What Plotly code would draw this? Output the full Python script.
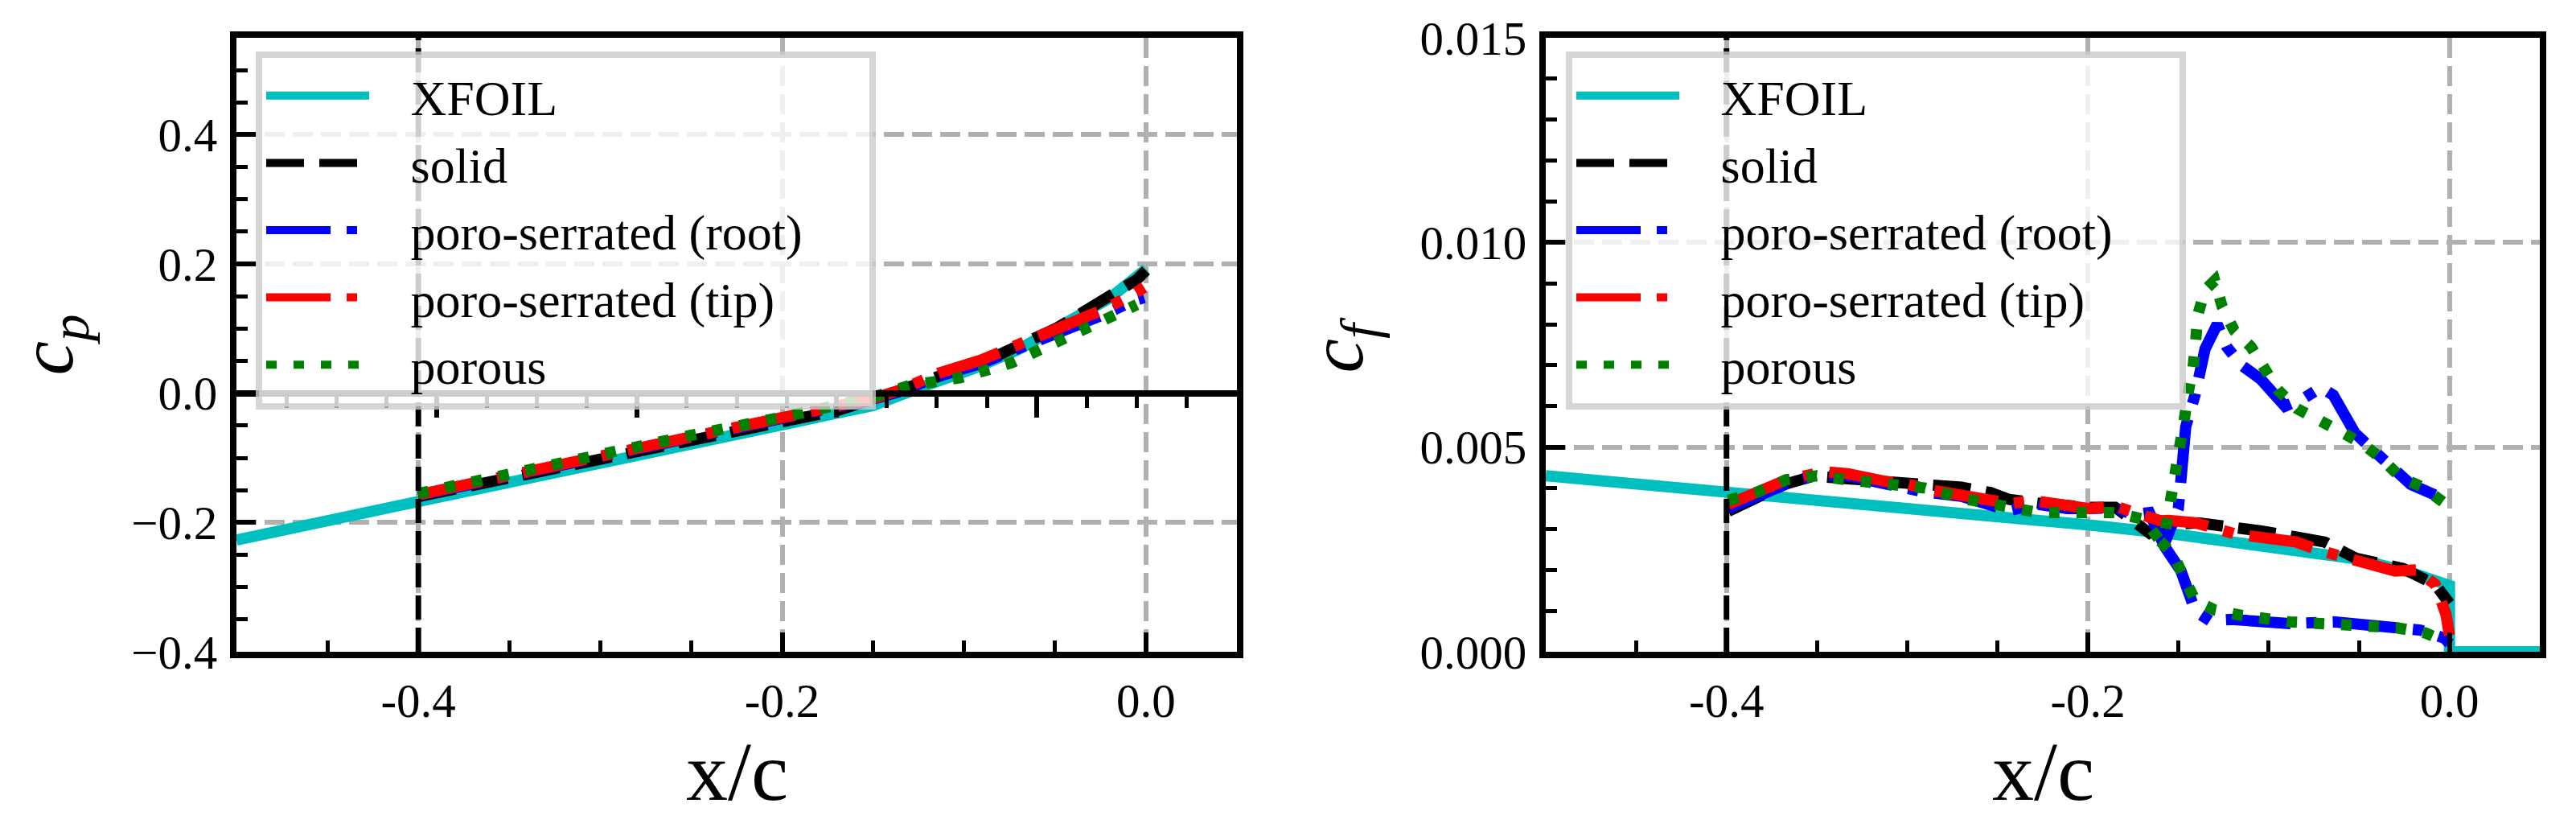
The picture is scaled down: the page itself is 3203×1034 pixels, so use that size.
import plotly.graph_objects as go

# ---------------- data: pressure coefficient (left panel) ----------------
xfoil_cp_x = [-0.5, -0.45, -0.4, -0.35, -0.3, -0.25, -0.2, -0.15, -0.123, -0.094, -0.07, -0.042, -0.02, 0.0]
xfoil_cp = [-0.227, -0.197, -0.167, -0.136, -0.106, -0.077, -0.049, -0.019, 0.010, 0.039, 0.068, 0.110, 0.147, 0.192]

solid_cp_x = [-0.4, -0.35, -0.3, -0.25, -0.2, -0.17, -0.15, -0.14, -0.115, -0.082, -0.049, -0.027, -0.005, 0.0]
solid_cp = [-0.160, -0.130, -0.100, -0.072, -0.044, -0.027, -0.012, 0.000, 0.025, 0.058, 0.101, 0.137, 0.176, 0.190]

serr_cp_x = [-0.4, -0.35, -0.3, -0.25, -0.2, -0.17, -0.15, -0.135, -0.114, -0.091, -0.049, -0.023, -0.007, -0.001]
root_cp = [-0.158, -0.128, -0.098, -0.069, -0.041, -0.023, -0.009, 0.003, 0.026, 0.046, 0.092, 0.122, 0.143, 0.148]
tip_cp = [-0.157, -0.127, -0.097, -0.068, -0.040, -0.022, -0.008, 0.005, 0.031, 0.051, 0.098, 0.130, 0.153, 0.164]

porous_cp_x = [-0.4, -0.35, -0.3, -0.25, -0.2, -0.17, -0.15, -0.13, -0.102, -0.074, -0.061, -0.048, -0.035, -0.023, -0.0095, -0.005]
porous_cp = [-0.155, -0.124, -0.094, -0.065, -0.037, -0.020, -0.006, 0.012, 0.024, 0.047, 0.064, 0.078, 0.097, 0.114, 0.130, 0.137]

# ---------------- data: skin friction coefficient (right panel) ----------------
xfoil_cf_x = [-0.5, -0.4, -0.3, -0.2, -0.15, -0.1, -0.067, -0.05, -0.02, -0.01, 0.0, 0.0, 0.05]
xfoil_cf = [0.0043, 0.0039, 0.00355, 0.0031, 0.00286, 0.00257, 0.00242, 0.00226, 0.00192, 0.0018, 0.00162, 0.0, 0.0]

solid_cf_x = [-0.399, -0.383, -0.368, -0.352, -0.333, -0.319, -0.300, -0.2865, -0.270, -0.254, -0.2436, -0.2276,
              -0.2115, -0.2, -0.185, -0.177, -0.166, -0.158, -0.139, -0.104, -0.069, -0.052, -0.0255, -0.0078, 0.0]
solid_cf = [0.00343, 0.00376, 0.00409, 0.00429, 0.00422, 0.00415, 0.00412, 0.00409, 0.00402, 0.00389, 0.00372, 0.00363,
            0.00356, 0.00353, 0.00353, 0.00323, 0.0029, 0.0031, 0.00315, 0.00295, 0.00268, 0.00229, 0.00203, 0.00164, 0.00118]

tip_cf_x = [-0.399, -0.383, -0.367, -0.346, -0.333, -0.312, -0.300, -0.288, -0.270, -0.2545, -0.243, -0.230, -0.2115,
            -0.2, -0.185, -0.170, -0.160, -0.1554, -0.1406, -0.1186, -0.0846, -0.0728, -0.0521, -0.030, -0.0183,
            -0.0078, -0.0019, 0.0]
tip_cf = [0.0036, 0.0039, 0.0042, 0.0044, 0.00435, 0.00416, 0.0041, 0.00396, 0.00385, 0.00369, 0.00362, 0.00369, 0.00353,
          0.0035, 0.00356, 0.0033, 0.0032, 0.00321, 0.00315, 0.00288, 0.00268, 0.00249, 0.00223, 0.00197, 0.002,
          0.00164, 0.00091, 0.0004]

root_cf_main_x = [-0.399, -0.383, -0.367, -0.352, -0.333, -0.312, -0.290, -0.270, -0.254, -0.2436, -0.2276, -0.2115,
                  -0.2, -0.185, -0.175, -0.166, -0.158]
root_cf_main = [0.0035, 0.0038, 0.0041, 0.0043, 0.0043, 0.0041, 0.0039, 0.0038, 0.0036, 0.00345, 0.0036, 0.0035,
                0.0035, 0.00352, 0.00335, 0.0034, 0.0026]
root_cf_upper_x = [-0.150, -0.1459, -0.1406, -0.1352, -0.1285, -0.1232, -0.1151, -0.1044, -0.0910, -0.0803, -0.0710,
                   -0.0643, -0.0522, -0.0428, -0.0321, -0.0214, -0.0080]
root_cf_upper = [0.0035, 0.0055, 0.0063, 0.0074, 0.0080, 0.00745, 0.0070, 0.00666, 0.0060, 0.0062, 0.00646,
                 0.00627, 0.00534, 0.00495, 0.00449, 0.00409, 0.00383]
root_cf_lower_x = [-0.158, -0.1486, -0.1406, -0.1325, -0.1205, -0.1044, -0.0884, -0.0643, -0.0375, -0.0161, -0.0027, 0.0]
root_cf_lower = [0.0026, 0.00198, 0.00099, 0.00076, 0.00079, 0.00073, 0.00069, 0.00073, 0.00063, 0.00053, 0.00033, 0.0002]

porous_cf_main_x = [-0.399, -0.383, -0.367, -0.350, -0.333, -0.312, -0.290, -0.270, -0.254, -0.240, -0.2276, -0.210,
                    -0.2, -0.185, -0.1687, -0.163, -0.160]
porous_cf_main = [0.0037, 0.0039, 0.0042, 0.0043, 0.0042, 0.0041, 0.0040, 0.00375, 0.0036, 0.00345, 0.0034, 0.0034,
                  0.0034, 0.0034, 0.00323, 0.00284, 0.0027]
porous_cf_upper_x = [-0.157, -0.154, -0.1505, -0.1486, -0.1467, -0.1446, -0.1419, -0.1403, -0.1392, -0.1352, -0.1299,
                     -0.1258, -0.1191, -0.1098, -0.1017, -0.0950, -0.0843, -0.0736, -0.0602, -0.0482, -0.0375,
                     -0.0268, -0.0147, -0.0027]
porous_cf_upper = [0.0030, 0.00376, 0.0044, 0.00505, 0.00567, 0.00633, 0.00692, 0.00765, 0.00824, 0.00884, 0.00907,
                   0.00844, 0.00785, 0.00745, 0.00692, 0.0064, 0.00594, 0.00571, 0.00538, 0.00508, 0.00472,
                   0.00425, 0.00402, 0.00363]
porous_cf_lower_x = [-0.160, -0.1526, -0.1473, -0.1406, -0.1299, -0.1151, -0.0884, -0.0589, -0.0295, -0.0134, -0.0027]
porous_cf_lower = [0.0027, 0.00237, 0.00185, 0.00125, 0.00102, 0.00089, 0.00073, 0.00069, 0.00059, 0.00046, 0.00026]

# ---------------- labels / ticks ----------------
names = ["XFOIL", "solid", "poro-serrated (root)", "poro-serrated (tip)", "porous"]
x_title = "x/c"
cp_title = "<i>c</i><sub><i>p</i></sub>"
cf_title = "<i>c</i><sub><i>f</i></sub>"
x_tickvals = [-0.4, -0.2, 0.0]
x_ticktext = ["-0.4", "-0.2", "0.0"]
cp_tickvals = [-0.4, -0.2, 0.0, 0.2, 0.4]
cp_ticktext = ["\u22120.4", "\u22120.2", "0.0", "0.2", "0.4"]
cf_tickvals = [0.0, 0.005, 0.010, 0.015]
cf_ticktext = ["0.000", "0.005", "0.010", "0.015"]
x_range = [-0.5, 0.05]
cp_range = [-0.4, 0.55]
cf_range = [0.0, 0.015]
porous_start = -0.4

# ---------------- styling ----------------
W, H = 3203, 1034
FONT = "Liberation Serif"
colors = ["#00BFBF", "#000000", "#0000FF", "#FF0000", "#008000"]
dashes = ["solid", "47px,19px", "80px,20px,13px,20px", "80px,20px,13px,20px", "13px,21px"]
LW = 14
SPINE = 8
GRID = "#b0b0b0"
NB = "\u00a0"


def joined(*parts):
    xs, ys = [], []
    for i in range(0, len(parts), 2):
        if xs:
            xs.append(None)
            ys.append(None)
        xs += list(parts[i])
        ys += list(parts[i + 1])
    return xs, ys


root_cf_x, root_cf_y = joined(root_cf_main_x + root_cf_upper_x, root_cf_main + root_cf_upper,
                              root_cf_lower_x, root_cf_lower)
porous_cf_x, porous_cf_y = joined(porous_cf_main_x + porous_cf_upper_x, porous_cf_main + porous_cf_upper,
                                  porous_cf_lower_x, porous_cf_lower)

left_data = [(xfoil_cp_x, xfoil_cp), (solid_cp_x, solid_cp), (serr_cp_x, root_cp),
             (serr_cp_x, tip_cp), (porous_cp_x, porous_cp)]
right_data = [(xfoil_cf_x, xfoil_cf), (solid_cf_x, solid_cf), (root_cf_x, root_cf_y),
              (tip_cf_x, tip_cf), (porous_cf_x, porous_cf_y)]

fig = go.Figure()
for panel, data in enumerate([left_data, right_data]):
    for i, (xs, ys) in enumerate(data):
        fig.add_trace(go.Scatter(
            x=xs, y=ys, mode="lines", name=NB * 3 + names[i] + NB * 5,
            line=dict(color=colors[i], width=LW, dash=dashes[i]),
            xaxis="x" if panel == 0 else "x2", yaxis="y" if panel == 0 else "y2",
            legend="legend" if panel == 0 else "legend2",
            connectgaps=False, hoverinfo="skip"))

# invisible trace so the secondary (zero-line) axis is drawn
fig.add_trace(go.Scatter(x=[None], y=[None], xaxis="x3", yaxis="y", showlegend=False, hoverinfo="skip"))

tickfont = dict(family=FONT, size=59, color="black")
titlefont = dict(family=FONT, size=104, color="black")
ytitlefont = dict(family=FONT, size=96, color="black")


def xaxis(domain, anchor):
    return dict(domain=domain, anchor=anchor, range=x_range, tickmode="array", tickvals=x_tickvals,
                ticktext=x_ticktext, ticks="inside", ticklen=24, tickwidth=6, tickcolor="black",
                minor=dict(dtick=0.05, tick0=0, ticks="inside", ticklen=14, tickwidth=5, tickcolor="black",
                           showgrid=False),
                showline=True, linewidth=SPINE, linecolor="black", mirror=True,
                showgrid=True, gridcolor=GRID, gridwidth=6, griddash="25px,10px", zeroline=False,
                tickfont=tickfont, ticklabelstandoff=2)


def yaxis(domain_anchor, rng, tv, tt, mdt):
    return dict(anchor=domain_anchor, range=rng, tickmode="array", tickvals=tv, ticktext=tt,
                ticks="inside", ticklen=24, tickwidth=6, tickcolor="black",
                minor=dict(dtick=mdt, tick0=0, ticks="inside", ticklen=14, tickwidth=5, tickcolor="black",
                           showgrid=False),
                showline=True, linewidth=SPINE, linecolor="black", mirror=True,
                showgrid=True, gridcolor=GRID, gridwidth=6, griddash="25px,10px", zeroline=False,
                tickfont=tickfont, ticklabelstandoff=4)


ml, mr, mt, mb = 294, 45, 47, 224
plot_w = W - ml - mr
plot_h = H - mt - mb
left_dom = [0.0, 1244 / plot_w]
right_dom = [(1922 - ml) / plot_w, 1.0]
zero_pos = (0 - cp_range[0]) / (cp_range[1] - cp_range[0])

legend_style = dict(bgcolor="rgba(255,255,255,0.8)", bordercolor="rgba(204,204,204,0.8)", borderwidth=8,
                    font=dict(family=FONT, size=62, color="black"), xanchor="left", yanchor="top",
                    itemwidth=128, tracegroupgap=0)

title_y = -(958 - (H - mb)) / plot_h
annotations = [
    dict(text=x_title, xref="x domain", yref="paper", x=0.5, y=title_y, showarrow=False,
         xanchor="center", yanchor="middle", font=titlefont),
    dict(text=x_title, xref="x2 domain", yref="paper", x=0.5, y=title_y, showarrow=False,
         xanchor="center", yanchor="middle", font=titlefont),
    dict(text=cp_title, xref="paper", yref="paper", x=(64 - ml) / plot_w, y=0.5, showarrow=False,
         textangle=-90, xanchor="center", yanchor="middle", font=ytitlefont),
    dict(text=cf_title, xref="paper", yref="paper", x=(1668 - ml) / plot_w, y=0.5, showarrow=False,
         textangle=-90, xanchor="center", yanchor="middle", font=ytitlefont),
]

fig.update_layout(
    width=W, height=H, autosize=False,
    margin=dict(l=ml, r=mr, t=mt, b=mb),
    paper_bgcolor="white", plot_bgcolor="white",
    font=dict(family=FONT, color="black"),
    xaxis=xaxis(left_dom, "y"),
    xaxis2=xaxis(right_dom, "y2"),
    yaxis=yaxis("x", cp_range, cp_tickvals, cp_ticktext, 0.05),
    yaxis2=yaxis("x2", cf_range, cf_tickvals, cf_ticktext, 0.001),
    xaxis3=dict(overlaying="x", domain=left_dom, anchor="free", position=zero_pos, side="top",
                range=[0, 1], tickmode="linear", tick0=0, dtick=0.2, ticks="inside", ticklen=26,
                tickwidth=6, tickcolor="black", showticklabels=False,
                minor=dict(dtick=0.05, tick0=0, ticks="inside", ticklen=14, tickwidth=5, tickcolor="black",
                           showgrid=False),
                showline=True, linewidth=SPINE, linecolor="black", showgrid=False, zeroline=False),
    legend=dict(x=(318 - ml) / plot_w, y=1 - (64 - mt) / plot_h, **legend_style),
    legend2=dict(x=(1947 - ml) / plot_w, y=1 - (64 - mt) / plot_h, **legend_style),
    shapes=[
        dict(type="line", xref="x", yref="paper", x0=porous_start, x1=porous_start, y0=0, y1=1,
             line=dict(color="black", width=7, dash="30px,10px"), layer="above"),
        dict(type="line", xref="x2", yref="paper", x0=porous_start, x1=porous_start, y0=0, y1=1,
             line=dict(color="black", width=7, dash="30px,10px"), layer="above"),
    ],
    annotations=annotations,
    showlegend=True,
)

fig.write_html("out.html", config={"displayModeBar": False},
               post_script="document.body.style.margin='0';")
